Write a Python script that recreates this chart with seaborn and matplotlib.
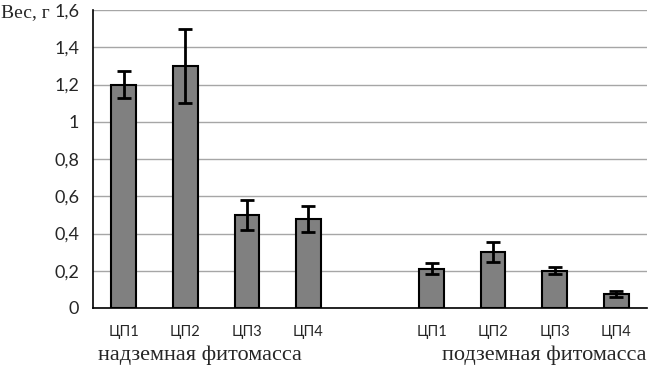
import matplotlib
matplotlib.use("Agg")
import matplotlib.pyplot as plt
import seaborn as sns
import pandas as pd
import numpy as np

# data
categories = ["ЦП1", "ЦП2", "ЦП3", "ЦП4", "", "ЦП1", "ЦП2", "ЦП3", "ЦП4"]
keys = ["a1", "a2", "a3", "a4", "gap", "b1", "b2", "b3", "b4"]
values = [1.20, 1.30, 0.50, 0.48, np.nan, 0.21, 0.30, 0.20, 0.075]
errors = [0.07, 0.20, 0.08, 0.07, np.nan, 0.03, 0.053, 0.02, 0.015]
y_ticks = [0, 0.2, 0.4, 0.6, 0.8, 1.0, 1.2, 1.4, 1.6]
y_tick_labels = ["0", "0,2", "0,4", "0,6", "0,8", "1", "1,2", "1,4", "1,6"]
group_labels = ["надземная фитомасса", "подземная фитомасса"]
y_label = "Вес, г"

df = pd.DataFrame({"key": keys, "value": values, "err": errors})

sns.set_style("white")
fig = plt.figure(figsize=(6.49, 3.68), dpi=100)
ax = fig.add_axes([93/649, 1 - 308/368, 554/649, 298/368])

sns.barplot(data=df, x="key", y="value", order=keys, color="#808080",
            edgecolor="black", linewidth=1.5, width=0.4, errorbar=None,
            saturation=1, ax=ax)

xs = np.arange(len(keys))
mask = ~np.isnan(df["value"].values)
ax.errorbar(xs[mask], df["value"].values[mask], yerr=df["err"].values[mask],
            fmt="none", ecolor="black", elinewidth=2, capsize=5, capthick=2, zorder=5)

ax.set_xlim(-0.5, len(keys) - 0.5)
ax.set_ylim(0, 1.6)
ax.set_yticks(y_ticks)
ax.set_yticklabels(y_tick_labels, fontsize=13, family=["Lato", "DejaVu Sans"])
ax.yaxis.grid(True, color="#a6a6a6", linewidth=1)
ax.set_axisbelow(True)

ax.set_xticks(xs)
ax.set_xticklabels(categories, fontsize=10.5, family=["Lato", "DejaVu Sans"])
ax.tick_params(axis="x", which="major", length=0, pad=12)
ax.set_xticks(np.arange(-0.5, len(keys), 1.0), minor=True)
ax.tick_params(axis="x", which="minor", length=5, width=1, color="black", direction="out")
ax.tick_params(axis="y", length=5, width=1, color="black", direction="out", pad=5)
ax.set_xlabel("")
ax.set_ylabel("")

for s in ["top", "right"]:
    ax.spines[s].set_visible(False)
for s in ["left", "bottom"]:
    ax.spines[s].set_color("black")
    ax.spines[s].set_linewidth(1.2)

fig.text(1/649, 1 - 13/368, y_label, fontsize=14, family="Liberation Serif",
         ha="left", va="center")
fig.text(200/649, 1 - 355/368, group_labels[0], fontsize=16, family="Liberation Serif",
         ha="center", va="center")
fig.text(647/649, 1 - 355/368, group_labels[1], fontsize=16, family="Liberation Serif",
         ha="right", va="center")

fig.savefig("out.png", dpi=100)
